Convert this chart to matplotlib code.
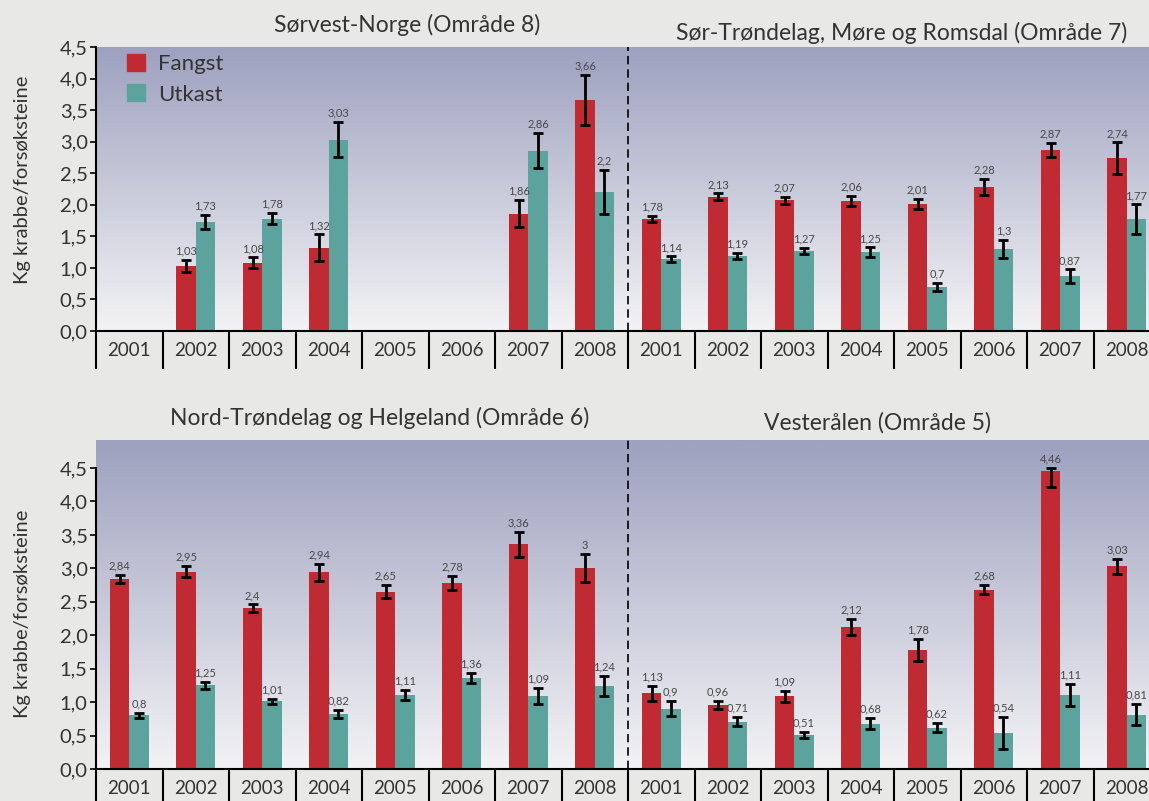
import numpy as np
import matplotlib.pyplot as plt
from matplotlib.colors import LinearSegmentedColormap
from matplotlib.patches import Patch

plt.rcParams['font.family'] = ['Lato', 'DejaVu Sans']

nan = np.nan
years = ['2001', '2002', '2003', '2004', '2005', '2006', '2007', '2008']
yticks = [0.0, 0.5, 1.0, 1.5, 2.0, 2.5, 3.0, 3.5, 4.0, 4.5]

# Sørvest-Norge (Område 8)
o8_fangst = [nan, 1.03, 1.08, 1.32, nan, nan, 1.86, 3.66]
o8_fangst_err = [nan, 0.09, 0.085, 0.21, nan, nan, 0.21, 0.40]
o8_utkast = [nan, 1.73, 1.78, 3.03, nan, nan, 2.86, 2.2]
o8_utkast_err = [nan, 0.115, 0.09, 0.28, nan, nan, 0.28, 0.35]

# Sør-Trøndelag, Møre og Romsdal (Område 7)
o7_fangst = [1.78, 2.13, 2.07, 2.06, 2.01, 2.28, 2.87, 2.74]
o7_fangst_err = [0.047, 0.05, 0.053, 0.084, 0.076, 0.124, 0.113, 0.248]
o7_utkast = [1.14, 1.19, 1.27, 1.25, 0.7, 1.3, 0.87, 1.77]
o7_utkast_err = [0.042, 0.045, 0.045, 0.074, 0.06, 0.137, 0.105, 0.235]

# Nord-Trøndelag og Helgeland (Område 6)
o6_fangst = [2.84, 2.95, 2.4, 2.94, 2.65, 2.78, 3.36, 3.0]
o6_fangst_err = [0.06, 0.085, 0.06, 0.13, 0.10, 0.105, 0.185, 0.21]
o6_utkast = [0.8, 1.25, 1.01, 0.82, 1.11, 1.36, 1.09, 1.24]
o6_utkast_err = [0.04, 0.055, 0.04, 0.06, 0.075, 0.075, 0.125, 0.145]

# Vesterålen (Område 5)
o5_fangst = [1.13, 0.96, 1.09, 2.12, 1.78, 2.68, 4.46, 3.03]
o5_fangst_err = [0.112, 0.06, 0.082, 0.122, 0.162, 0.065, 0.25, 0.112]
o5_utkast = [0.9, 0.71, 0.51, 0.68, 0.62, 0.54, 1.11, 0.81]
o5_utkast_err = [0.112, 0.062, 0.042, 0.085, 0.067, 0.244, 0.167, 0.157]

RED = '#c02a33'
TEAL = '#5ca29d'
BG = '#e8e8e6'
TXT = '#333333'
W = 0.29

grad = LinearSegmentedColormap.from_list('bg', ['#f3f3f5', '#9ea1bf'])


def fmt(v):
    return f'{v:g}'.replace('.', ',')


def draw_pair(ax, start, fangst, fangst_err, utkast, utkast_err):
    x = np.arange(len(years)) + start + 0.5
    for vals, errs, dx, col in [(fangst, fangst_err, -W / 2, RED),
                                (utkast, utkast_err, W / 2, TEAL)]:
        vals = np.array(vals)
        errs = np.array(errs)
        ax.bar(x + dx, vals, width=W, color=col, zorder=2)
        hi = np.minimum(errs, 4.5 - vals)
        ax.errorbar(x + dx, vals, yerr=[errs, hi], fmt='none', ecolor='black',
                    elinewidth=2, capsize=3.5, capthick=2, zorder=3)
        for xi, v, e in zip(x + dx, vals, hi):
            if np.isnan(v):
                continue
            ax.annotate(fmt(v), (xi, v + e), xytext=(0, 2.5), textcoords='offset points',
                        ha='center', va='bottom', fontsize=8, color='#484848', zorder=4)


def setup(ax, ytop):
    ax.imshow(np.linspace(0, 1, 256).reshape(-1, 1)[::-1], cmap=grad, aspect='auto',
              extent=[0, 16, 0, ytop], zorder=0)
    ax.set_xlim(0, 16)
    ax.set_ylim(0, ytop)
    ax.set_facecolor(BG)
    for s in ['top', 'right']:
        ax.spines[s].set_visible(False)
    ax.spines['left'].set_bounds(0, 4.5)
    ax.spines['left'].set_linewidth(1.5)
    ax.spines['bottom'].set_linewidth(1.5)
    ax.set_yticks(yticks)
    ax.set_yticklabels([f'{t:.1f}'.replace('.', ',') for t in yticks])
    ax.tick_params(axis='y', length=4, width=1.2, labelsize=14.5, labelcolor=TXT, pad=2)
    ax.set_xticks(np.arange(0, 17))
    ax.set_xticklabels([])
    ax.set_xticks(np.arange(16) + 0.5, minor=True)
    ax.set_xticklabels(years * 2, minor=True)
    ax.tick_params(axis='x', which='major', length=27, width=1.5, direction='out')
    ax.tick_params(axis='x', which='minor', length=0, labelsize=13.5, labelcolor=TXT, pad=8)
    ax.axvline(8, color='black', lw=1.2, ls=(0, (5, 3)), zorder=1)


fig = plt.figure(figsize=(11.49, 8.01), dpi=100, facecolor=BG)
ax1 = fig.add_axes([96 / 1149, 1 - 331 / 801, 1064 / 1149, 284 / 801])
ax2 = fig.add_axes([96 / 1149, 1 - 769 / 801, 1064 / 1149, 329 / 801])

setup(ax1, 4.5)
setup(ax2, 4.5 * 329 / 301)

draw_pair(ax1, 0, o8_fangst, o8_fangst_err, o8_utkast, o8_utkast_err)
draw_pair(ax1, 8, o7_fangst, o7_fangst_err, o7_utkast, o7_utkast_err)
draw_pair(ax2, 0, o6_fangst, o6_fangst_err, o6_utkast, o6_utkast_err)
draw_pair(ax2, 8, o5_fangst, o5_fangst_err, o5_utkast, o5_utkast_err)

ax1.legend(handles=[Patch(color=RED), Patch(color=TEAL)], labels=['Fangst', 'Utkast'],
           loc='upper left', bbox_to_anchor=(0.029, 0.975), frameon=False,
           borderpad=0, borderaxespad=0, handlelength=0.8, handleheight=0.8,
           handletextpad=0.6, labelspacing=0.45, fontsize=16, labelcolor=TXT)

titles = [(407, 25, 'Sørvest-Norge (Område 8)'),
          (902, 33, 'Sør-Trøndelag, Møre og Romsdal (Område 7)'),
          (380, 418, 'Nord-Trøndelag og Helgeland (Område 6)'),
          (877, 423, 'Vesterålen (Område 5)')]
for tx, ty, t in titles:
    fig.text(tx / 1149, 1 - ty / 801, t, ha='center', va='center', fontsize=16.5, color=TXT)

for ty in (180, 614):
    fig.text(23 / 1149, 1 - ty / 801, 'Kg krabbe/forsøksteine', rotation=90, ha='center',
             va='center', fontsize=14.5, color=TXT)

fig.savefig('out.png', dpi=100, facecolor=BG)
